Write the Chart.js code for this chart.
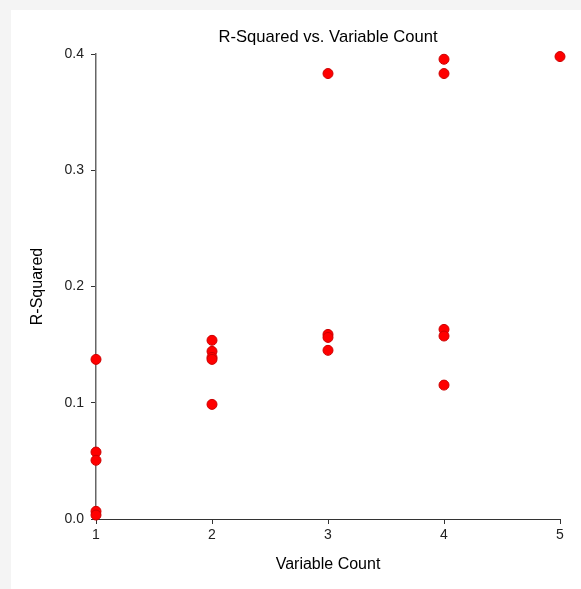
<!DOCTYPE html>
<html>
<head>
<meta charset="utf-8">
<script src="https://cdn.jsdelivr.net/npm/chart.js@4"></script>
<style>
  html, body { margin: 0; padding: 0; background: #f4f4f4; }
  #panel { position: absolute; left: 11px; top: 10px; width: 570px; height: 579px; background: #fff; }
  #wrap { position: absolute; left: 0; top: 0; width: 581px; height: 589px; }
</style>
</head>
<body>
<div id="panel"></div>
<div id="wrap"><canvas id="chart" width="581" height="589"></canvas></div>
<script>
// variable count of each model and its R-squared
var var_count = [1, 1, 1, 1, 1, 2, 2, 2, 2, 2, 3, 3, 3, 3, 4, 4, 4, 4, 4, 5]
var r_squared = [0.1373, 0.0576, 0.0505, 0.0066, 0.0034,
                 0.1537, 0.1442, 0.139, 0.1373, 0.0986,
                 0.3832, 0.1588, 0.1562, 0.1451,
                 0.3955, 0.3832, 0.1631, 0.1574, 0.1152,
                 0.3978]
var y_ticks = [0.0, 0.1, 0.2, 0.3, 0.4]
var x_ticks = [1, 2, 3, 4, 5]

var points = []
for (var i = 0; i < var_count.length; i++) {
    points.push({ x: var_count[i], y: r_squared[i] })
}

var fontFam = "'Liberation Sans', Arial, sans-serif";

myChart = new Chart(document.getElementById("chart"), {
    type: 'scatter',
    data: {
        datasets: [{
            data: points,
            backgroundColor: "#ff0000",
            borderColor: "#cc0000",
            borderWidth: 1,
            pointRadius: 5,
            pointHoverRadius: 5,
            clip: false
        }]
    },
    options: {
        responsive: false,
        animation: false,
        layout: { padding: { left: 0, right: 21, top: 0, bottom: 0 } },
        plugins: {
            legend: { display: false },
            tooltip: { enabled: false },
            title: {
                display: true,
                fullSize: false,
                text: 'R-Squared vs. Variable Count',
                color: '#000',
                font: { family: fontFam, size: 16.6, weight: 'normal', lineHeight: 1.2 },
                padding: { top: 27, bottom: 7.1 }
            }
        },
        scales: {
            x: {
                type: 'linear',
                min: 1,
                max: 5,
                afterFit: function (scale) { scale.height = 70; },
                afterBuildTicks: function (scale) {
                    scale.ticks = x_ticks.map(function (v) { return { value: v }; });
                },
                grid: { display: true, drawOnChartArea: false, drawTicks: true, tickLength: 5, color: '#333' },
                border: { display: true, color: '#333', width: 1 },
                ticks: {
                    color: '#222',
                    padding: 3,
                    maxRotation: 0,
                    font: { family: fontFam, size: 14 },
                    callback: function (v) { return String(v); }
                },
                title: {
                    display: true,
                    text: 'Variable Count',
                    color: '#000',
                    font: { family: fontFam, size: 16, lineHeight: 1.2 },
                    padding: { top: 0, bottom: 14.4 }
                }
            },
            y: {
                type: 'linear',
                min: 0,
                max: 0.4,
                afterFit: function (scale) { scale.width = 96; },
                afterBuildTicks: function (scale) {
                    scale.ticks = y_ticks.map(function (v) { return { value: v }; });
                },
                grid: { display: true, drawOnChartArea: false, drawTicks: true, tickLength: 5, color: '#333' },
                border: { display: true, color: '#666', width: 1.5 },
                ticks: {
                    color: '#222',
                    padding: 7,
                    font: { family: fontFam, size: 14 },
                    callback: function (v) { return Number(v).toFixed(1); }
                },
                title: {
                    display: true,
                    text: 'R-Squared',
                    color: '#000',
                    font: { family: fontFam, size: 16, lineHeight: 1.2 },
                    padding: { top: 28.4, bottom: 0 }
                }
            }
        }
    }
});
</script>
</body>
</html>
